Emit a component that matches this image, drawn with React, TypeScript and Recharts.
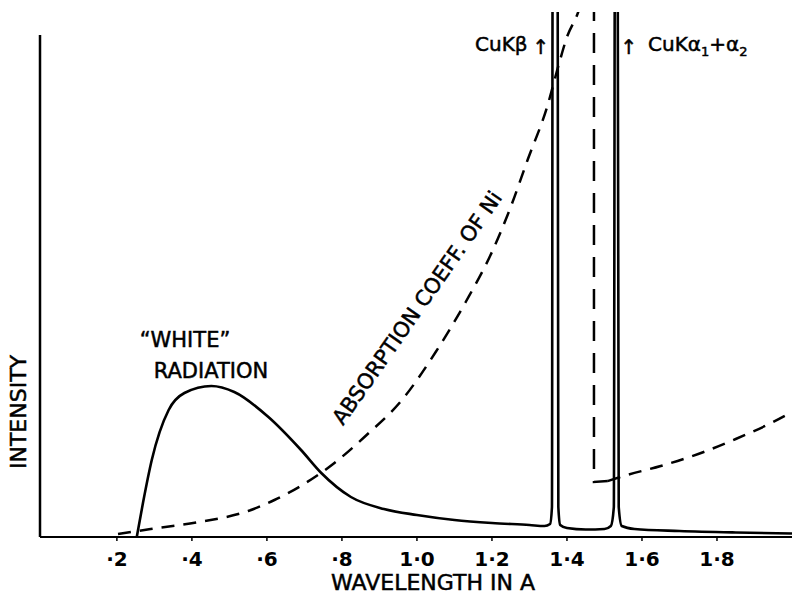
import React from 'react';
import { LineChart, Line, XAxis, YAxis, ReferenceLine, Customized } from 'recharts';

// "white" radiation + Cu K lines (peaks run off the top)
const specWavelength = [0.253, 0.27, 0.293, 0.338, 0.38, 0.452, 0.513, 0.604, 0.691, 0.745, 0.824, 0.912, 1.0, 1.1, 1.2, 1.3, 1.34, 1.355, 1.36, 1.362, 1.375, 1.377, 1.382, 1.4, 1.45, 1.5, 1.517, 1.525, 1.528, 1.535, 1.538, 1.546, 1.58, 1.7, 1.85, 2.0];
const specIntensity = [0, 7, 15.4, 25.4, 28.8, 30.2, 29, 24, 17.4, 12.8, 8, 5.6, 4.4, 3.4, 2.8, 2.4, 2.2, 2.6, 6, 125, 125, 6, 2.4, 1.8, 1.5, 1.6, 2.2, 6, 125, 125, 6, 2.2, 1.6, 1.2, 0.9, 0.7];

// absorption coefficient of Ni, short-wave side of the K edge
const absWavelength = [0.203, 0.29, 0.42, 0.55, 0.62, 0.69, 0.78, 0.86, 0.96, 1.05, 1.13, 1.2, 1.25, 1.295, 1.347, 1.38, 1.4, 1.43, 1.45];
const absCoeff = [0.6, 1.6, 3.0, 5.2, 7.4, 10.2, 14.8, 20, 27.4, 37, 47, 57, 66, 75.4, 86, 95, 100, 105, 110];

// the edge itself
const edgeWavelength = [1.472, 1.472, 1.509];
const edgeCoeff = [120, 11, 11.2];

// long-wave side of the edge
const afterWavelength = [1.509, 1.56, 1.65, 1.75, 1.85, 1.95, 2.0];
const afterCoeff = [11.2, 12.4, 14.2, 16.6, 19.6, 23, 25];

const xTicks = [0.2, 0.4, 0.6, 0.8, 1.0, 1.2, 1.4, 1.6, 1.8];
const xTickLabels = ['·2', '·4', '·6', '·8', '1·0', '1·2', '1·4', '1·6', '1·8'];

const toPoints = (xs: number[], ys: number[]) => xs.map((x, i) => ({ x, y: ys[i] }));

const FONT = '"DejaVu Sans", sans-serif';

const renderTick = (props: any) => {
  const { x, y, payload } = props;
  const idx = xTicks.findIndex((t) => Math.abs(t - payload.value) < 1e-6);
  return (
    <text x={x} y={y + 23} textAnchor="middle" fontFamily={FONT} fontSize={20} fontWeight="bold" fill="#000">
      {idx >= 0 ? xTickLabels[idx] : ''}
    </text>
  );
};

const textStyle = { fontFamily: FONT, fill: '#000', stroke: '#000', strokeWidth: 0.5 };

function Annotations() {
  return (
    <g>
      <text x={185} y={347} textAnchor="middle" fontSize={21} style={textStyle}>“WHITE”</text>
      <text x={211} y={378} textAnchor="middle" fontSize={21} style={textStyle}>RADIATION</text>
      <text
        x={423}
        y={312}
        textAnchor="middle"
        fontSize={21}
        style={textStyle}
        transform="rotate(-55 423 312)"
      >
        ABSORPTION COEFF. OF Ni
      </text>
      <text x={475} y={51} fontSize={20} style={textStyle}>CuKβ</text>
      <text x={541} y={54} textAnchor="middle" fontSize={20} style={textStyle}>↑</text>
      <text x={629} y={54} textAnchor="middle" fontSize={20} style={textStyle}>↑</text>
      <text x={648} y={51} fontSize={20} style={textStyle}>
        CuKα<tspan fontSize={13} dy={5}>1</tspan>
        <tspan dy={-5}>+α</tspan>
        <tspan fontSize={13} dy={5}>2</tspan>
      </text>
      <text
        x={26}
        y={412}
        textAnchor="middle"
        fontSize={22}
        style={textStyle}
        transform="rotate(-90 26 412)"
      >
        INTENSITY
      </text>
      <text x={433} y={590} textAnchor="middle" fontSize={22} style={textStyle}>WAVELENGTH IN A</text>
    </g>
  );
}

export default function App() {
  const spectrum = toPoints(specWavelength, specIntensity);
  const absorption = toPoints(absWavelength, absCoeff);
  const edge = toPoints(edgeWavelength, edgeCoeff);
  const after = toPoints(afterWavelength, afterCoeff);

  return (
    <div style={{ position: 'absolute', left: 0, top: 0, background: '#fff' }}>
      <LineChart width={792} height={598} margin={{ top: 12, right: 0, left: 40, bottom: 0 }}>
        <XAxis
          type="number"
          dataKey="x"
          domain={[-0.005, 2]}
          allowDataOverflow
          ticks={xTicks}
          tick={renderTick}
          tickSize={4}
          height={61}
          axisLine={{ stroke: '#000', strokeWidth: 2 }}
          tickLine={{ stroke: '#000', strokeWidth: 1.5 }}
        />
        <YAxis type="number" dataKey="y" domain={[0, 105]} allowDataOverflow hide />
        <ReferenceLine
          segment={[{ x: -0.005, y: 0 }, { x: -0.005, y: 100.4 }]}
          stroke="#000"
          strokeWidth={2.5}
          ifOverflow="visible"
        />
        <Line data={absorption} dataKey="y" type="monotone" stroke="#000" strokeWidth={2.5} strokeDasharray="13 9" dot={false} isAnimationActive={false} />
        <Line data={edge} dataKey="y" type="linear" stroke="#000" strokeWidth={2.5} strokeDasharray="20 12" dot={false} isAnimationActive={false} />
        <Line data={after} dataKey="y" type="monotone" stroke="#000" strokeWidth={2.5} strokeDasharray="13 9" dot={false} isAnimationActive={false} />
        <Line data={spectrum} dataKey="y" type="monotone" stroke="#000" strokeWidth={2.6} dot={false} isAnimationActive={false} />
        <Customized component={<Annotations />} />
      </LineChart>
    </div>
  );
}
